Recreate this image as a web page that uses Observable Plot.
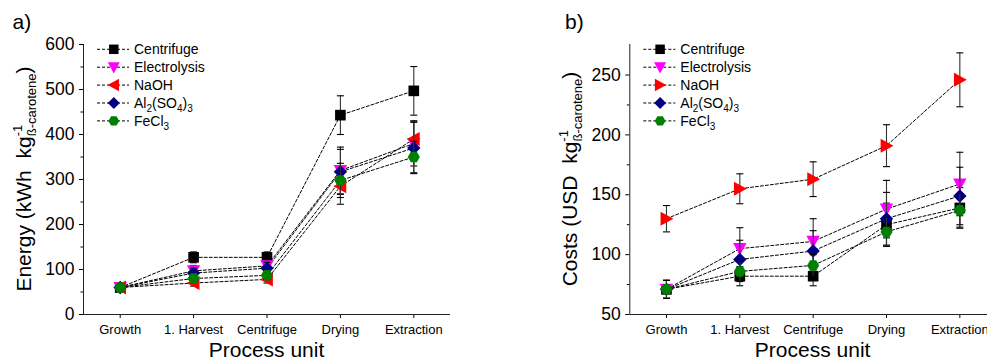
<!DOCTYPE html>
<html><head><meta charset="utf-8">
<script src="https://cdn.jsdelivr.net/npm/d3@7"></script>
<script src="https://cdn.jsdelivr.net/npm/@observablehq/plot@0.6"></script>
<style>
html,body{margin:0;padding:0;background:#fff;}
body{width:987px;height:360px;overflow:hidden;position:relative;font-family:"Liberation Sans",Arial,sans-serif;}
.panel{position:absolute;top:0;}
.panel svg{max-width:none !important;}
</style></head><body>
<div id="pa" class="panel" style="left:0;width:494px"></div>
<div id="pb" class="panel" style="left:494px;width:502px"></div>
<script>
// ---- data ----
const units = ["Growth", "1. Harvest", "Centrifuge", "Drying", "Extraction"];
const seriesNames = ["Centrifuge", "Electrolysis", "NaOH", "Al2(SO4)3", "FeCl3"];
const seriesColors = ["#000000", "#FF00FF", "#FF0000", "#000080", "#008000"];

// Panel a) Energy (kWh kg-1 β-carotene)
const energyCentrifuge   = [60, 127, 127, 443, 497];
const energyElectrolysis = [60, 97, 108, 320, 380];
const energyNaOH         = [60, 70, 78, 285, 390];
const energyAl2SO43      = [60, 92, 103, 317, 370];
const energyFeCl3        = [60, 80, 87, 298, 350];
const energyErrCentrifuge   = [6, 12, 12, 43, 54];
const energyErrElectrolysis = [6, 12, 13, 52, 50];
const energyErrNaOH         = [6, 7, 8, 40, 40];
const energyErrAl2SO43      = [6, 11, 13, 50, 57];
const energyErrFeCl3        = [6, 8, 9, 38, 35];
const energyTicks = [0, 100, 200, 300, 400, 500, 600];
const energyMinorTicks = [50, 150, 250, 350, 450, 550];

// Panel b) Costs (USD kg-1 β-carotene)
const costCentrifuge   = [71, 82, 82, 125, 139];
const costElectrolysis = [71, 105, 111, 138, 159];
const costNaOH         = [130, 155, 163, 191, 246];
const costAl2SO43      = [71, 96, 103, 130, 149];
const costFeCl3        = [71, 86, 91, 119, 137];
const costErrCentrifuge   = [7.5, 8, 8, 18, 17];
const costErrElectrolysis = [7.5, 17.5, 19, 24, 26.5];
const costErrNaOH         = [11, 12.5, 14.5, 17.5, 22.5];
const costErrAl2SO43      = [7.5, 16, 17, 22, 24];
const costErrFeCl3        = [7.5, 8.5, 9, 12, 14];
const costTicks = [50, 100, 150, 200, 250];
const costMinorTicks = [75, 125, 175, 225];

// ---- symbols ----
const sq = {draw(c, size){ const h = Math.sqrt(size/Math.PI)*0.95; c.rect(-h,-h,2*h,2*h); }};
const triDown = {draw(c, size){ const h = Math.sqrt(size/Math.PI); c.moveTo(-1.2*h,-1*h); c.lineTo(1.2*h,-1*h); c.lineTo(0,1.25*h); c.closePath(); }};
const triLeft = {draw(c, size){ const h = Math.sqrt(size/Math.PI); c.moveTo(-1.25*h,0); c.lineTo(1.05*h,-1.25*h); c.lineTo(1.05*h,1.25*h); c.closePath(); }};
const triRight = {draw(c, size){ const h = Math.sqrt(size/Math.PI); c.moveTo(1.25*h,0); c.lineTo(-1.05*h,-1.25*h); c.lineTo(-1.05*h,1.25*h); c.closePath(); }};
const diamond = {draw(c, size){ const h = Math.sqrt(size/Math.PI)*1.2; c.moveTo(0,-h); c.lineTo(h,0); c.lineTo(0,h); c.lineTo(-h,0); c.closePath(); }};
const hexagon = {draw(c, size){ const h = Math.sqrt(size/Math.PI)*1.08; for(let k=0;k<6;k++){ const a=k*Math.PI/3; const px=h*Math.cos(a), py=h*Math.sin(a); k?c.lineTo(px,py):c.moveTo(px,py);} c.closePath(); }};
const capSym = {draw(c){ c.moveTo(-3.5,0); c.lineTo(3.5,0); }};

const legendParts = [
  [["Centrifuge"]],
  [["Electrolysis"]],
  [["NaOH"]],
  [["Al"],["2","sub"],["(SO"],["4","sub"],[")"],["3","sub"]],
  [["FeCl"],["3","sub"]]
];

const FONT = '"Liberation Sans", Arial, sans-serif';

function makePanel(opts){
  const {values, errors, symbols, yDomain, ticks, minorTicks, width, marginLeft, marginRight, yParts, tag, host} = opts;
  const marginTop = 44, marginBottom = 46, height = 360;
  const marks = [];
  marks.push(Plot.axisY(ticks, {tickSize: 4, tickPadding: 5, fontSize: 17.5, label: null, strokeWidth: 1}));
  marks.push(Plot.axisY(minorTicks, {tickSize: 2.5, text: null, label: null}));
  marks.push(Plot.axisX([1,2,3,4,5], {tickSize: 4, tickPadding: 6, fontSize: 13, label: null, tickFormat: d => units[d-1]}));
  marks.push(Plot.ruleX([0.5], {stroke: "#222"}));
  marks.push(Plot.ruleY([yDomain[0]], {stroke: "#222"}));
  const datas = values.map((vals, i) => vals.map((v, j) => ({x: j+1, y: v, e: errors[i][j]})));
  datas.forEach(d => marks.push(Plot.line(d, {x: "x", y: "y", stroke: "#000", strokeWidth: 1, strokeDasharray: "3,2"})));
  datas.forEach((d, i) => {
    marks.push(Plot.ruleX(d, {x: "x", y1: p => p.y - p.e, y2: p => p.y + p.e, stroke: "#333", strokeWidth: 1.1}));
    marks.push(Plot.dot(d, {x: "x", y: p => p.y - p.e, symbol: capSym, r: 3, stroke: "#000", fill: "none", strokeWidth: 1.1}));
    marks.push(Plot.dot(d, {x: "x", y: p => p.y + p.e, symbol: capSym, r: 3, stroke: "#000", fill: "none", strokeWidth: 1.1}));
    marks.push(Plot.dot(d, {x: "x", y: "y", symbol: symbols[i], r: 5.6, fill: seriesColors[i], stroke: "none"}));
  });
  const svgEl = Plot.plot({
    width, height, marginTop, marginBottom, marginLeft, marginRight,
    x: {domain: [0.5, 5.5]},
    y: {domain: yDomain},
    style: {fontFamily: FONT, background: "white", color: "#000", overflow: "visible", maxWidth: "none"},
    marks
  });
  document.getElementById(host).appendChild(svgEl);
  const svg = d3.select(svgEl);
  const axisX = marginLeft;
  const x1 = width - marginRight;
  const cy = (marginTop + height - marginBottom) / 2;

  // panel tag
  svg.append("text").attr("x", tag.x).attr("y", 28.5).attr("text-anchor", "start")
    .attr("font-size", 21).attr("font-family", FONT).text(tag.text);

  // x title
  svg.append("text").attr("x", (axisX + x1) / 2).attr("y", 357).attr("text-anchor", "middle")
    .attr("font-size", 21).attr("font-family", FONT).text("Process unit");

  // y title
  const yt = svg.append("text").attr("transform", `translate(${axisX - 52},${cy}) rotate(-90)`)
    .attr("text-anchor", "middle").attr("font-size", 21).attr("font-family", FONT).style("white-space", "pre");
  yt.append("tspan").text(yParts[0]);
  yt.append("tspan").attr("font-size", 13).attr("dy", -9).text("-1");
  yt.append("tspan").attr("font-size", 13).attr("dx", -11.5).attr("dy", 14).text("ß-carotene");
  yt.append("tspan").attr("dy", -5).text(")");

  // legend
  const lg = svg.append("g");
  seriesNames.forEach((name, i) => {
    const ry = 49.3 + i * 17.9;
    lg.append("line").attr("x1", axisX + 14).attr("x2", axisX + 46).attr("y1", ry).attr("y2", ry)
      .attr("stroke", "#000").attr("stroke-width", 1).attr("stroke-dasharray", "3,2");
    lg.append("path").attr("transform", `translate(${axisX + 30.8},${ry})`)
      .attr("d", d3.symbol().type(symbols[i]).size(Math.PI * 5 * 5)()).attr("fill", seriesColors[i]);
    const t = lg.append("text").attr("x", axisX + 51).attr("y", ry + 5).attr("text-anchor", "start")
      .attr("font-size", 14).attr("font-family", FONT);
    let shift = 0;
    legendParts[i].forEach(([s, mode]) => {
      const target = mode === "sub" ? 4 : 0;
      const ts = t.append("tspan").attr("dy", target - shift).text(s);
      if (mode === "sub") ts.attr("font-size", 10);
      shift = target;
    });
  });
}

makePanel({
  values: [energyCentrifuge, energyElectrolysis, energyNaOH, energyAl2SO43, energyFeCl3],
  errors: [energyErrCentrifuge, energyErrElectrolysis, energyErrNaOH, energyErrAl2SO43, energyErrFeCl3],
  symbols: [sq, triDown, triLeft, diamond, hexagon],
  yDomain: [0, 600], ticks: energyTicks, minorTicks: energyMinorTicks,
  width: 494, marginLeft: 83, marginRight: 44,
  yParts: ["Energy (kWh  kg"], tag: {x: 12.5, text: "a)"}, host: "pa"
});
makePanel({
  values: [costCentrifuge, costElectrolysis, costNaOH, costAl2SO43, costFeCl3],
  errors: [costErrCentrifuge, costErrElectrolysis, costErrNaOH, costErrAl2SO43, costErrFeCl3],
  symbols: [sq, triDown, triRight, diamond, hexagon],
  yDomain: [50, 275.5], ticks: costTicks, minorTicks: costMinorTicks,
  width: 502, marginLeft: 135.3, marginRight: 0,
  yParts: ["Costs (USD  kg"], tag: {x: 71, text: "b)"}, host: "pb"
});
</script>
</body></html>
